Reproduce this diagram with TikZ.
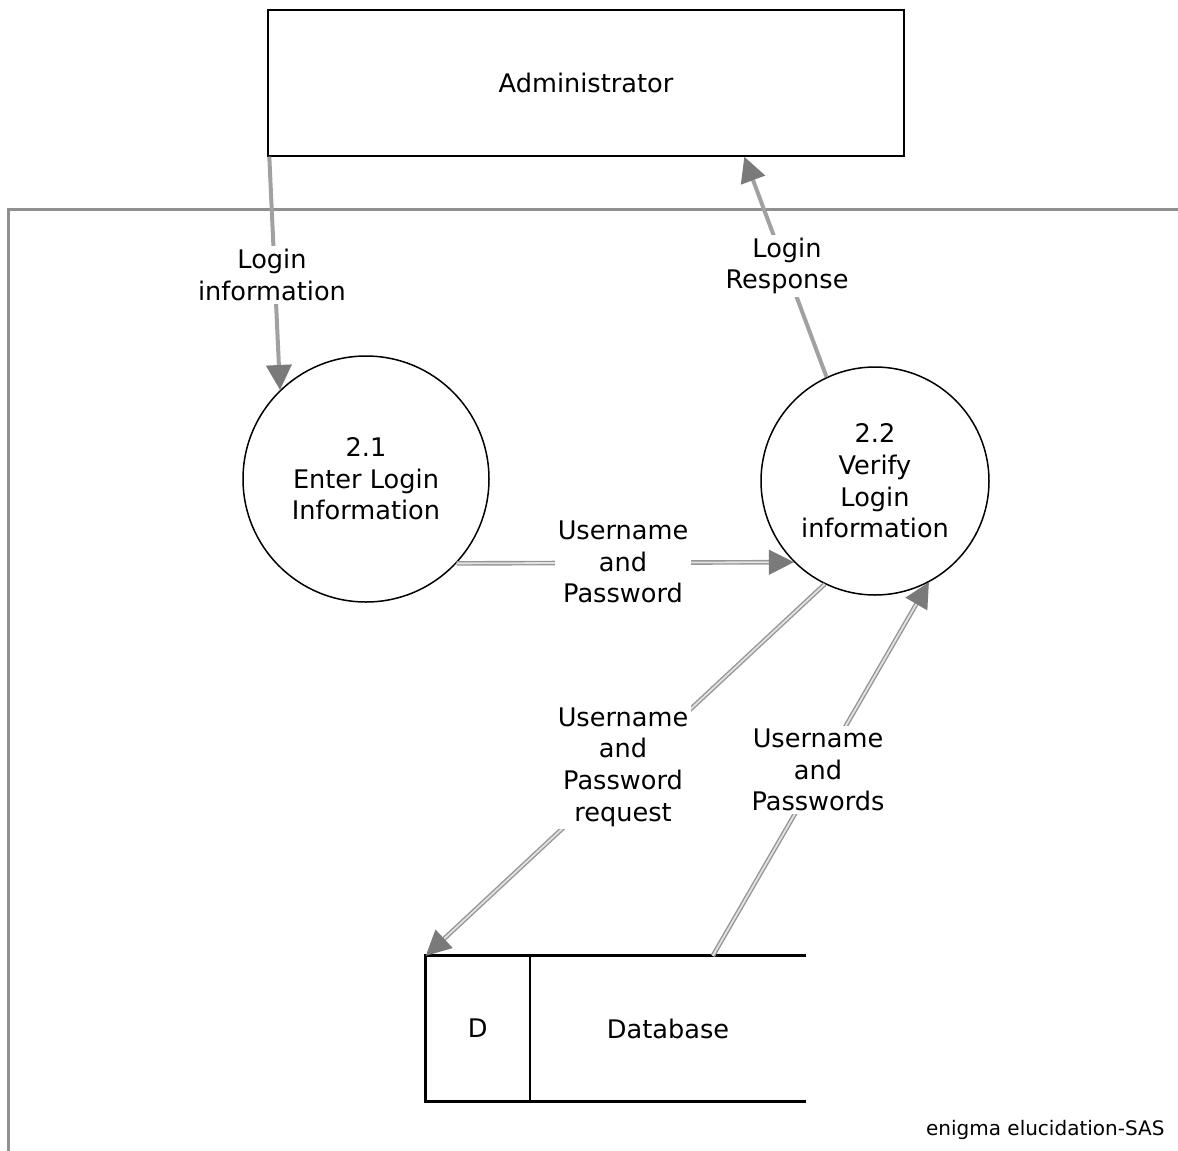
\documentclass[tikz,border=0pt]{standalone}
\usepackage{fontspec}
\setmainfont{DejaVu Sans}
\usetikzlibrary{arrows.meta,calc}

\definecolor{flowgray}{HTML}{8A8A8A}
\definecolor{flowlight}{HTML}{E2E2E2}
\definecolor{tipgray}{HTML}{7A7A7A}
\definecolor{framegray}{HTML}{909090}

\tikzset{
  txt/.style={font=\fontsize{25.6}{31.6}\selectfont, align=center, inner sep=2pt},
  process/.style={draw=black, line width=1.5pt, circle, txt},
  entity/.style={draw=black, line width=1.4pt, rectangle, txt},
  flowlabel/.style={txt, fill=white, inner sep=3pt},
  tipshape/.style={-{Triangle[length=25pt,width=25pt,color=tipgray,fill=tipgray]}},
  flowsolid/.style={draw=flowgray!80, line width=4pt, tipshape},
  flowdouble/.style={draw=flowgray!90, double=flowlight, double distance=1.8pt, line width=1.4pt, tipshape},
}

\begin{document}
\begin{tikzpicture}[x=1pt,y=-1pt]
  \useasboundingbox (0,0) rectangle (1178,1151);

  % system boundary (open frame)
  \draw[framegray, line width=3pt] (1178,209) -- (8,209) -- (8,1151);

  % external entity
  \node[entity, minimum width=636pt, minimum height=146pt] (admin) at (586,83) {Administrator};

  % processes
  \node[process, minimum size=246pt] (p21) at (366,479) {2.1\\Enter Login\\Information};
  \node[process, minimum size=228pt] (p22) at (875,481) {2.2\\Verify\\Login\\information};

  % data store
  \node[minimum width=380pt, minimum height=145pt, inner sep=0pt] (db) at (616,1028.5) {};
  \draw[black, line width=2.8pt] (db.north east) -- (db.north west) -- (db.south west) -- (db.south east);
  \draw[black, line width=1.4pt] ([xshift=104pt]db.north west) coordinate (dbsplit) -- ([xshift=104pt]db.south west);
  \node[txt] (dbid) at ($(db.west)!0.5!(dbsplit |- db.west)$) {D};
  \node[txt] (dbname) at ($(dbsplit |- db.west)!0.5!(db.east)$) {Database};

  % data flows
  \draw[flowsolid] ([xshift=2pt]admin.south west) -- (p21.134);
  \draw[flowsolid] (p22.115) -- ([xshift=477pt]admin.south west);
  \draw[flowdouble] (p21.-43) -- (p22.225);
  \draw[flowdouble] (p22.244) -- (db.north west);
  \draw[flowdouble] ([xshift=287pt]db.north west) -- (p22.298);

  % flow labels
  \node[flowlabel] (lblLogin) at (272,275) {Login\\information};
  \node[flowlabel] (lblResp) at (787,266) {Login\\Response};
  \node[flowlabel] (lblUP) at (623,562) {Username\\and\\Password};
  \node[flowlabel] (lblReq) at (623,767) {Username\\and\\Password\\request};
  \node[flowlabel] (lblUPs) at (818,770) {Username\\and\\Passwords};

  % credit line
  \node[font=\fontsize{20}{24}\selectfont, anchor=east] (credit) at (1168,1130) {enigma elucidation-SAS};
\end{tikzpicture}
\end{document}
